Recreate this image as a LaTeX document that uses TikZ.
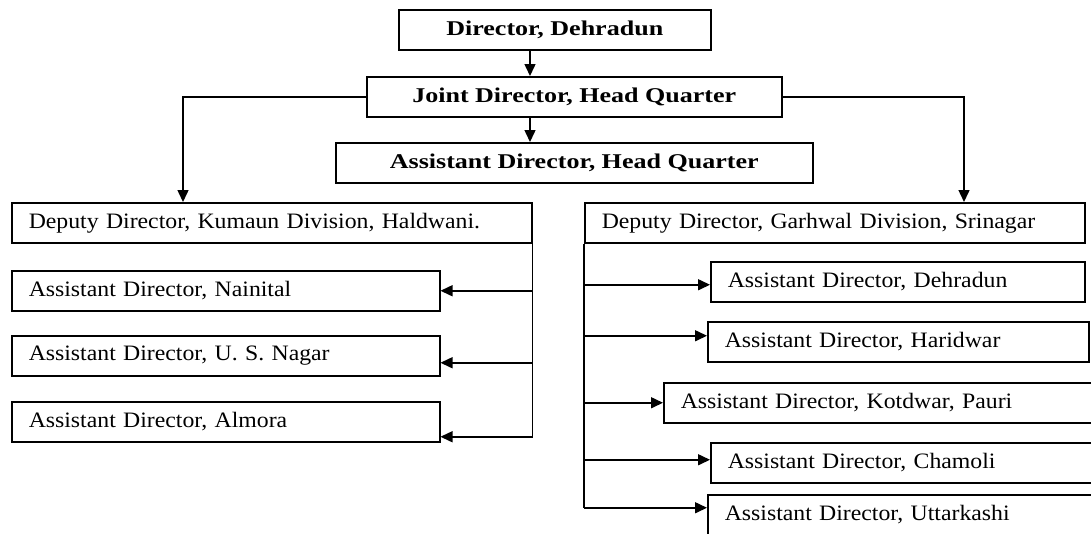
\documentclass[tikz,border=0pt]{standalone}
\usepackage{fontspec}
\setmainfont{Liberation Serif}[FakeStretch=1.08]
\newfontfamily\headfont{Liberation Serif}[FakeStretch=1.24]
\usetikzlibrary{arrows.meta}

\begin{document}
\begin{tikzpicture}[x=1pt, y=-1pt, line width=1.5pt,
		box/.style={draw, rectangle, inner sep=0pt, anchor=north west, minimum height=40pt, font=\fontsize{22}{24}\selectfont},
		head/.style={box, minimum width=#1, font=\headfont\bfseries\fontsize{21}{24}\selectfont},
		office/.style={box, align=left, inner xsep=17pt, text width=#1},
		link/.style={-{Triangle[length=12pt, width=11pt]}}]
		\useasboundingbox (0,0) rectangle (1091,533);
		
		\node[head=312pt] (dir) at (398, 9) {Director, Dehradun};
		\node[head=415pt] (jd) at (366, 76) {Joint Director, Head Quarter};
		\node[head=477pt] (ahq) at (335, 142) {Assistant Director, Head Quarter};
		
		% Kumaun
		\node[office=486pt] (ddk) at (11, 202) {Deputy Director, Kumaun Division, Haldwani.};
		\node[office=394pt] (nai) at (11, 270) {Assistant Director, Nainital};
		\node[office=394pt] (usn) at (11, 335) {Assistant Director, U. S. Nagar};
		\node[office=394pt] (alm) at (11, 401) {Assistant Director, Almora};
		
		% Garhwal
		\node[office=466pt] (ddg) at (584, 202) {Deputy Director, Garhwal Division, Srinagar};
		\node[office=340pt] (ddn) at (710, 261) {Assistant Director, Dehradun};
		\node[office=347pt] (hdw) at (707, 321) {Assistant Director, Haridwar};
		\node[office=403pt] (ktd) at (663, 382) {Assistant Director, Kotdwar, Pauri};
		\node[office=356pt] (cml) at (710, 442) {Assistant Director, Chamoli};
		\node[office=359pt] (utk) at (707, 494) {Assistant Director, Uttarkashi};
		
		\coordinate (spine) at (530, 0);
		\coordinate (kt) at (183, 0);
		\coordinate (gt) at (964, 0);
		
		\draw[link] (spine |- dir.south) -- (spine |- jd.north);
		\draw[link] (spine |- jd.south) -- (spine |- ahq.north);
		\draw[link] (jd.west) -| (kt |- ddk.north);
		\draw[link] (jd.east) -| (gt |- ddg.north);
		
		\draw (ddk.south east) -- ([yshift=-15pt]alm.east -| ddk.east);
		\foreach \t/\d in {nai/0, usn/7, alm/15} {
			\draw[link] ([yshift=-\d pt]\t.east -| ddk.east) -- ([yshift=-\d pt]\t.east);
		}
		
		\draw (ddg.south west) -- ([yshift=7pt]utk.west -| ddg.west);
		\foreach \t/\d in {ddn/-3, hdw/6, ktd/0, cml/3, utk/7} {
			\draw[link] ([yshift=\d pt]\t.west -| ddg.west) -- ([yshift=\d pt]\t.west);
		}
	\end{tikzpicture}
\end{document}
